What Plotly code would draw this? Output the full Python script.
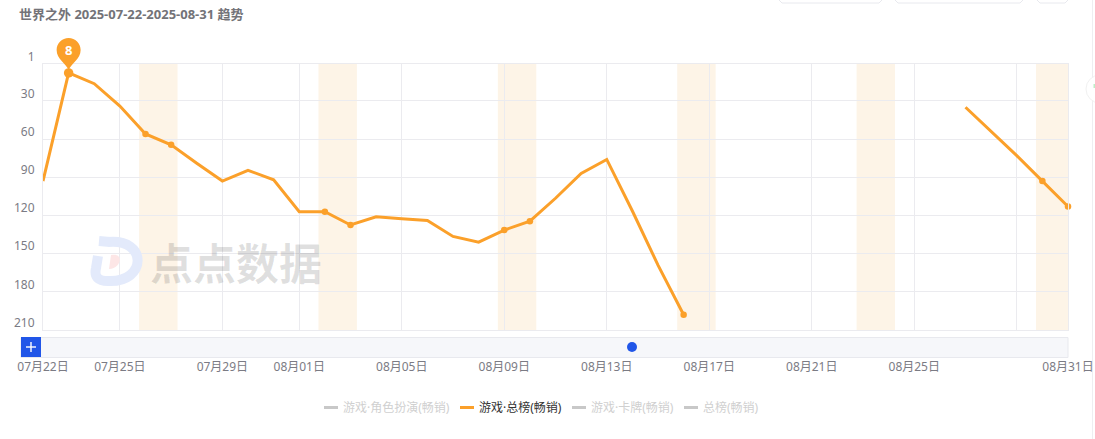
import plotly.graph_objects as go

FONT = "Noto Sans, Noto Sans CJK SC, sans-serif"
TITLE = "世界之外 2025-07-22-2025-08-31 趋势"
SERIES = "游戏·总榜(畅销)"
LEGEND_LABELS = ["游戏·角色扮演(畅销)", "游戏·总榜(畅销)", "游戏·卡牌(畅销)", "总榜(畅销)"]
LEGEND_ACTIVE = [False, True, False, False]

dates = ["07月%02d日" % d for d in range(22, 32)] + ["08月%02d日" % d for d in range(1, 32)]
ranks = [93, 8, 16.5, 34, 56, 64.5, 79, 93, 84.5, 92, 117, 117, 127.5, 121, 122.5, 124, 136.5, 141,
         131.5, 124.5, 106.5, 87, 76, 116.5, 159, 198,
         None, None, None, None, None, None, None, None, None, None,
         35, 54, 73, 93, 113]
marked = ["07月23日", "07月26日", "07月27日", "08月02日", "08月03日", "08月09日", "08月10日",
          "08月16日", "08月30日", "08月31日"]
weekends = [("07月26日", "07月27日"), ("08月02日", "08月03日"), ("08月09日", "08月10日"),
            ("08月16日", "08月17日"), ("08月23日", "08月24日"), ("08月30日", "08月31日")]
tick_dates = ["07月22日", "07月25日", "07月29日", "08月01日", "08月05日", "08月09日", "08月13日",
              "08月17日", "08月21日", "08月25日", "08月29日", "08月31日"]
hidden_tick_labels = ["08月29日"]
rank_ticks = [1, 30, 60, 90, 120, 150, 180, 210]
peak_date = "07月23日"
peak_rank = 8

W, H = 1095, 439
L, R, T, B = 43.0, 1068.0, 64.0, 330.0
ORANGE = "#FBA02A"
GRID = "#ebebef"
TICK = "#7b7b84"

def px(x):
    return (x - L) / (R - L)

def py(y):
    return (B - y) / (B - T)

def rect(x0, y0, x1, y1, **kw):
    return dict(type="rect", xref="paper", yref="paper", x0=px(x0), x1=px(x1), y0=py(y0), y1=py(y1), **kw)

def path_px(points, **kw):
    out = []
    for p in points:
        if isinstance(p, str):
            out.append(p)
        else:
            out.append("%.5f,%.5f" % (px(p[0]), py(p[1])))
    return dict(type="path", xref="paper", yref="paper", path=" ".join(out), **kw)

sizes = [(9.5 if d == peak_date else 6.5) if d in marked else 0 for d in dates]

fig = go.Figure()
fig.add_trace(go.Scatter(x=dates, y=ranks, name=SERIES, mode="lines+markers",
                         line=dict(color=ORANGE, width=3),
                         marker=dict(color=ORANGE, size=sizes, opacity=1, line=dict(width=0)),
                         connectgaps=False, cliponaxis=False, showlegend=False))

shapes = []
for a, b in weekends:
    x0 = dates.index(a) - 0.25
    x1 = min(dates.index(b) + 0.25, len(dates) - 1)
    shapes.append(dict(type="rect", xref="x", yref="paper", x0=x0, x1=x1, y0=0, y1=1,
                       fillcolor="#fdf4e7", line=dict(width=0), layer="below"))

# slider
shapes.append(rect(21, 337.5, 1068, 357.5, fillcolor="#f6f7fa", line=dict(color="#e8e9ee", width=1)))
shapes.append(rect(21, 337, 41, 357, fillcolor="#2156e8", line=dict(width=0)))
shapes.append(rect(26, 346.3, 36, 347.7, fillcolor="white", line=dict(width=0)))
shapes.append(rect(30.3, 342, 31.7, 352, fillcolor="white", line=dict(width=0)))
shapes.append(dict(type="circle", xref="paper", yref="paper", x0=px(627), x1=px(637), y0=py(352), y1=py(342),
                   fillcolor="#2156e8", line=dict(width=0)))

# pin above the peak, placed from the peak's date and rank
pin_x = L + dates.index(peak_date) * (R - L) / (len(dates) - 1)
pin_y = T + (peak_rank - 1) * (B - T) / 209
k = 6.6
cy = pin_y - 23
shapes.append(path_px(["M", (pin_x, pin_y - 3),
                       "C", (pin_x - 3, cy + 13), (pin_x - 12, cy + 9), (pin_x - 12, cy),
                       "C", (pin_x - 12, cy - k), (pin_x - k, cy - 12), (pin_x, cy - 12),
                       "C", (pin_x + k, cy - 12), (pin_x + 12, cy - k), (pin_x + 12, cy),
                       "C", (pin_x + 12, cy + 9), (pin_x + 3, cy + 13), (pin_x, pin_y - 3), "Z"],
                      fillcolor=ORANGE, line=dict(width=0), layer="above"))

# top buttons and right edge
for x0, x1 in [(779, 882), (895, 1023), (1037, 1068)]:
    shapes.append(path_px(["M", (x0, -5), "L", (x0, 0), "L", (x0 + 3, 3), "L", (x1 - 3, 3), "L", (x1, 0), "L", (x1, -5)],
                          line=dict(color="#e8e9ee", width=1)))
shapes.append(rect(1092, 0, 1093, H, fillcolor="#eeeef1", line=dict(width=0), layer="below"))
shapes.append(dict(type="circle", xref="paper", yref="paper", x0=px(1086), x1=px(1114), y0=py(103), y1=py(75),
                   fillcolor="white", line=dict(color="#f1f1f1", width=1)))
shapes.append(rect(1093.5, 84, 1095, 88, fillcolor="#bdf0c8", line=dict(width=0)))

# watermark logo
shapes.append(path_px(["M", (108, 242), "C", (148, 238), (147, 283), (108, 281), "C", (98, 281), (94, 277), (96, 268),
                       "L", (98, 256)], line=dict(color="#e3eafb", width=10)))
shapes.append(path_px(["M", (99, 241), "L", (110, 242)], line=dict(color="#e3eafb", width=10)))
shapes.append(path_px(["M", (111, 255), "C", (124, 252), (122, 268), (109, 269), "Z"],
                      fillcolor="#fde6e6", line=dict(width=0)))

# legend, drawn by hand with its 14 px samples
legend_x = [324, 460, 572, 684]
for label, active, x in zip(LEGEND_LABELS, LEGEND_ACTIVE, legend_x):
    shapes.append(rect(x, 406, x + 14, 409, fillcolor=ORANGE if active else "#c8c8c8", line=dict(width=0)))

annotations = [
    dict(text="<b>%s</b>" % TITLE, xref="paper", yref="paper", x=px(17), y=py(14), xanchor="left", yanchor="middle",
         showarrow=False, font=dict(size=13, color="#737378", family=FONT)),
    dict(text="<b>%d</b>" % peak_rank, x=dates.index(peak_date), y=peak_rank, xref="x", yref="y", yshift=23,
         showarrow=False, font=dict(size=13, color="white", family=FONT)),
    dict(text="点点数据", xref="paper", yref="paper", x=px(236), y=py(263), xanchor="center", yanchor="middle",
         showarrow=False, font=dict(size=43, color="rgba(0,0,0,0.12)", family=FONT, weight=700)),
]
for label, active, x in zip(LEGEND_LABELS, LEGEND_ACTIVE, legend_x):
    annotations.append(dict(text=label, xref="paper", yref="paper", x=px(x + 17), y=py(407), xanchor="left",
                            yanchor="middle", showarrow=False,
                            font=dict(size=12, color="#333333" if active else "#d0d0d0", family=FONT)))

fig.update_layout(
    width=W, height=H, autosize=False,
    margin=dict(l=L, r=W - R, t=T, b=H - B, pad=0, autoexpand=False),
    paper_bgcolor="white", plot_bgcolor="white",
    font=dict(family=FONT, size=12, color=TICK),
    showlegend=False, shapes=shapes, annotations=annotations,
    xaxis=dict(type="category", categoryorder="array", categoryarray=dates, range=[0, len(dates) - 1],
               tickmode="array", tickvals=tick_dates,
               ticktext=["" if d in hidden_tick_labels else d for d in tick_dates],
               showgrid=True, gridcolor=GRID, gridwidth=1, ticks="outside", ticklen=26,
               tickcolor="rgba(0,0,0,0)", showline=True, mirror=True, linecolor=GRID, linewidth=1,
               zeroline=False, tickangle=0, automargin=False,
               tickfont=dict(size=12, color=TICK, family=FONT)),
    yaxis=dict(range=[210, 1], tickmode="array", tickvals=rank_ticks, ticktext=[str(v) for v in rank_ticks],
               showgrid=True, gridcolor=GRID, gridwidth=1, ticks="",
               ticklabelposition="outside top", ticklabelshift=-1, ticklabelstandoff=5,
               showline=True, mirror=True, linecolor=GRID, linewidth=1, zeroline=False,
               automargin=False, tickfont=dict(size=12, color=TICK, family=FONT)),
)

fig.write_html("out.html", config=dict(displayModeBar=False),
               post_script="document.body.style.margin='0';document.body.style.overflow='hidden';")
